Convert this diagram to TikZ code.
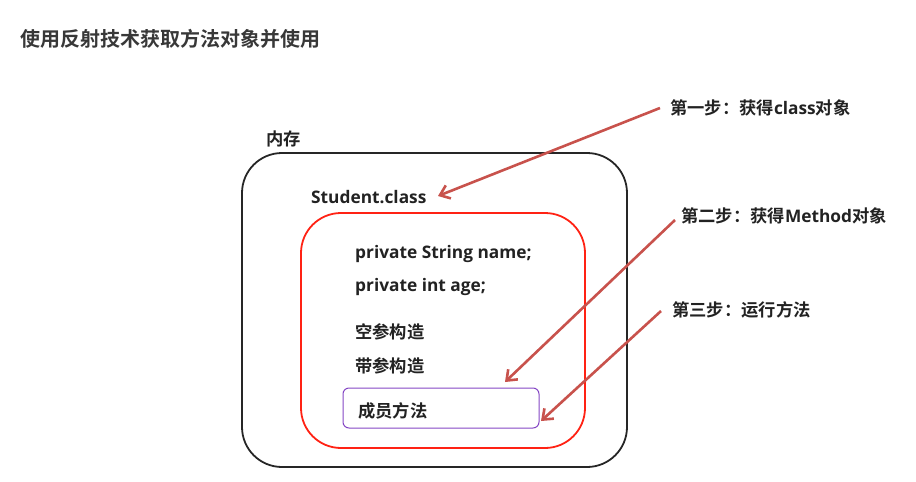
\documentclass[tikz,border=0pt]{standalone}
\usepackage{fontspec}
\setmainfont{Noto Sans CJK SC}[BoldFont={* Bold}]
\newfontfamily\lat{Open Sans}
\usetikzlibrary{arrows.meta}
\definecolor{arrowred}{HTML}{C8524C}
\definecolor{boxred}{HTML}{FF2214}
\definecolor{boxpurple}{HTML}{8446C4}
\definecolor{txt}{HTML}{222222}
\tikzset{
  lbl/.style={anchor=west, inner sep=0pt, font=\bfseries\fontsize{17.3}{19}\selectfont, text=txt},
  steparrow/.style={draw=arrowred, line width=2.6pt, -{Straight Barb[length=9pt,width=14pt,line width=2.6pt]}},
}
\begin{document}
\begin{tikzpicture}[x=1pt,y=-1pt]
\useasboundingbox (0,0) rectangle (916,482);
\node[anchor=west, inner sep=0pt, font=\bfseries\fontsize{20}{22}\selectfont, text=black!78] (title) at (20,39) {使用反射技术获取方法对象并使用};
\node[lbl] (mem) at (266,139) {内存};
\draw[line width=1.8pt, black!85, rounded corners=40pt] (242,153) rectangle (627,467);
\node[lbl] (cls) at (311,197) {\lat\bfseries Student.class};
\draw[line width=1.8pt, boxred, rounded corners=40pt] (301,213) rectangle (585,448);
\node[lbl] (f1) at (355,254) {\lat\bfseries private String name;};
\node[lbl] (f2) at (355,287) {\lat\bfseries private int age;};
\node[lbl] (c1) at (355,332) {空参构造};
\node[lbl] (c2) at (355,366) {带参构造};
\draw[line width=1pt, boxpurple, rounded corners=6pt] (343,388) rectangle (539,428);
\node[lbl] (m) at (358,411) {成员方法};
\node[lbl] (s1) at (670,108) {第一步：获得{\lat\bfseries class}对象};
\node[lbl] (s2) at (681,216) {第二步：获得{\lat\bfseries Method}对象};
\node[lbl] (s3) at (672,310) {第三步：运行方法};
\coordinate (t1) at (660,108);
\coordinate (h1) at (438,196);
\coordinate (t2) at (675,220);
\coordinate (h2) at (505,382);
\coordinate (t3) at (661,311);
\coordinate (h3) at (541,421);
\draw[steparrow] (t1) -- (h1);
\draw[steparrow] (t2) -- (h2);
\draw[steparrow] (t3) -- (h3);
\end{tikzpicture}
\end{document}
